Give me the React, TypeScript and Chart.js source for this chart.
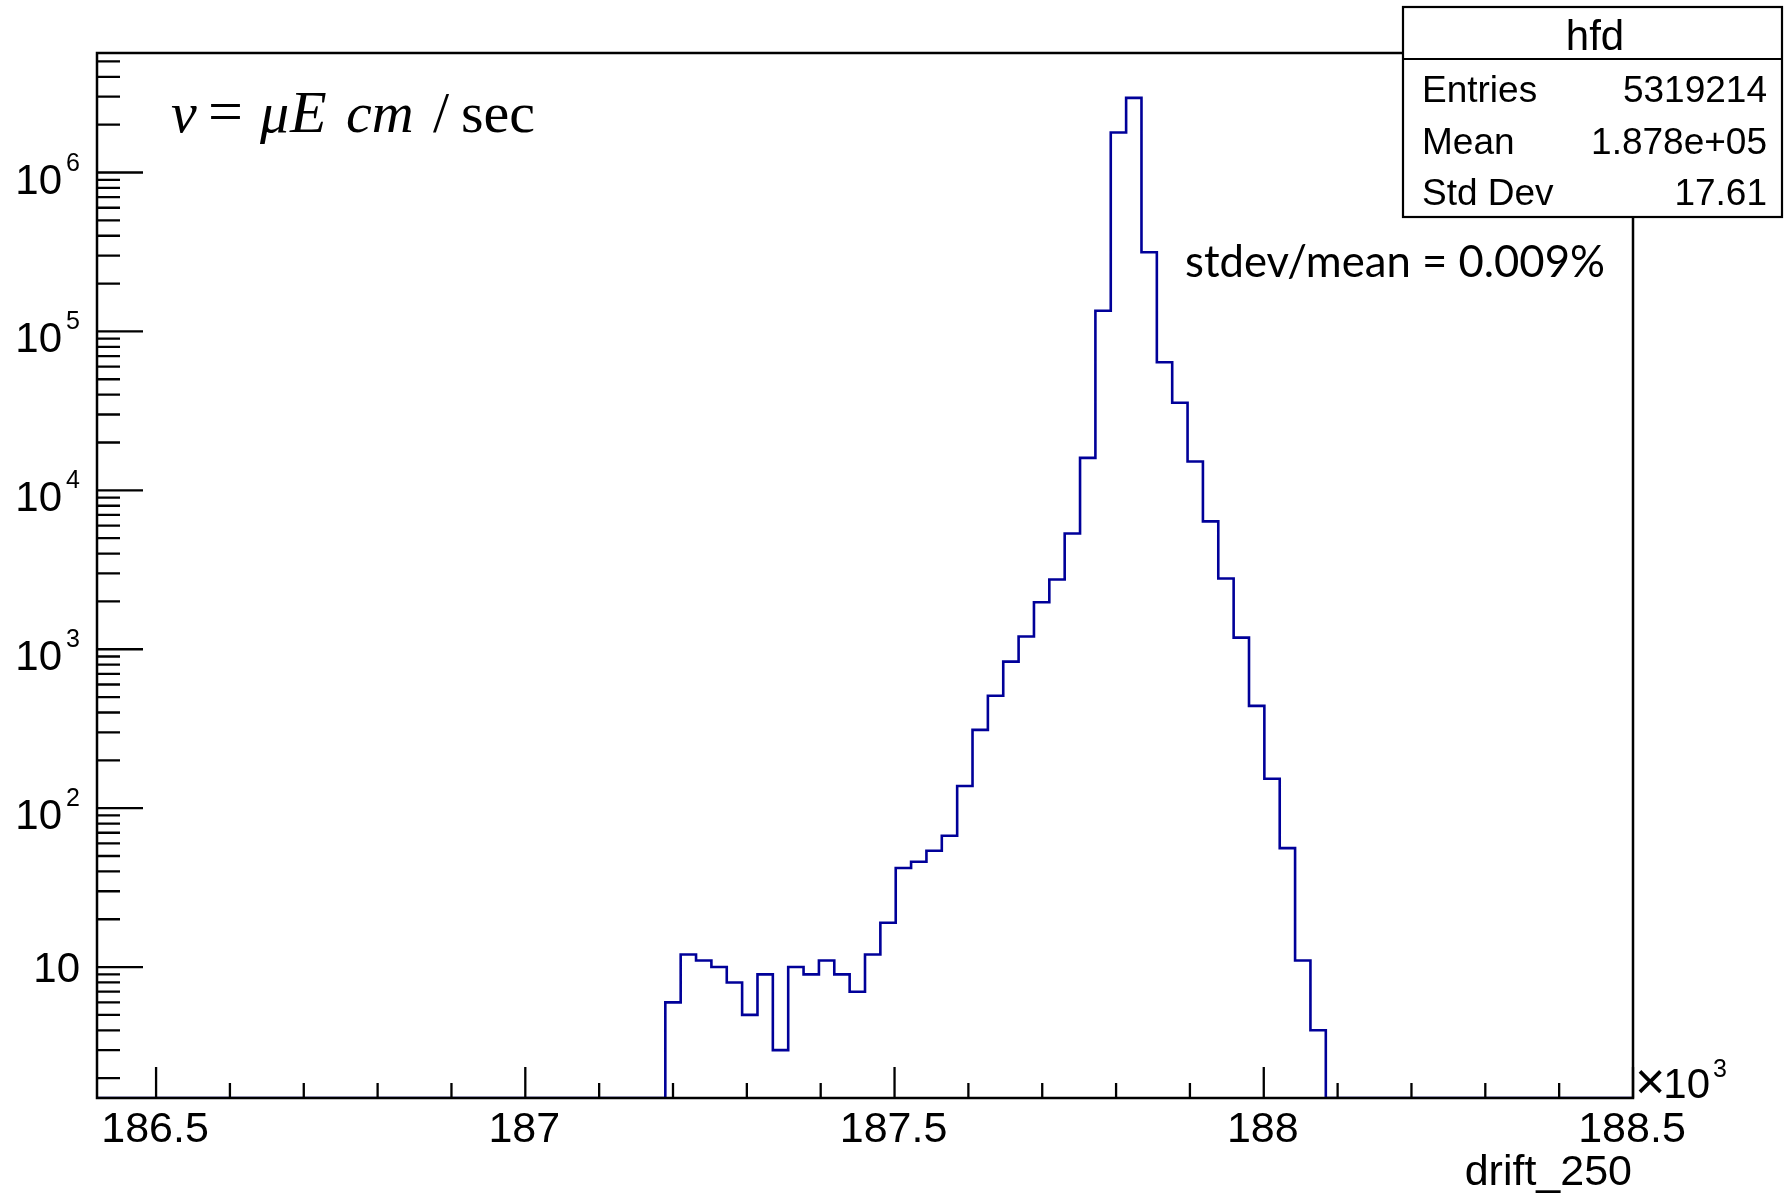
import React, { useEffect, useRef } from "react";
import { Chart, registerables } from "chart.js";

Chart.register(...registerables);

// ---- data (x in units of 10^3) ----
const X_MIN = 186.42;
const X_MAX = 188.5;
const N_BINS = 100;
const FIRST_BIN = 37;
const binCounts = [
  6, 12, 11, 10, 8, 5, 9, 3, 10, 9,
  11, 9, 7, 12, 19, 42, 46, 54, 67, 138,
  311, 510, 836, 1202, 1975, 2750, 5350, 16000, 135000, 1785000,
  2950000, 315000, 64000, 35600, 15200, 6380, 2790, 1183, 440, 153,
  56, 11, 4,
];
const Y_MIN = 1.5;
const Y_MAX = 5.65e6;

const X_TICK_VALUES = [186.5, 187, 187.5, 188, 188.5];
const X_TICK_LABELS = ["186.5", "187", "187.5", "188", "188.5"];
const X_MINOR_STEP = 0.1;
const Y_DECADES = [10, 100, 1000, 10000, 100000, 1000000];
const Y_LABEL_EXP = ["", "2", "3", "4", "5", "6"];

const X_TITLE = "drift_250";
const X_EXP_LABEL = "3";
const STAT_TITLE = "hfd";
const STAT_NAMES = ["Entries", "Mean", "Std Dev"];
const STAT_VALUES = ["5319214", "1.878e+05", "17.61"];
const NOTE = "stdev/mean = 0.009%";

const LINE_COLOR = "#000099";

function buildPoints() {
  const w = (X_MAX - X_MIN) / N_BINS;
  const pts: { x: number; y: number }[] = [];
  for (let i = 0; i < N_BINS; i++) {
    const idx = i - FIRST_BIN;
    const c = idx >= 0 && idx < binCounts.length ? binCounts[idx] : 0;
    pts.push({ x: X_MIN + i * w, y: c > 0 ? c : Y_MIN });
  }
  pts.push({ x: X_MAX, y: Y_MIN });
  return pts;
}

const SANS = '"Liberation Sans", Arial, Helvetica, sans-serif';
const SERIF = '"Liberation Serif", "Times New Roman", serif';

const rootPlugin = {
  id: "rootStyle",
  afterDraw(chart: any) {
    const { ctx, chartArea: a } = chart;
    const xs = chart.scales.x;
    const ys = chart.scales.y;
    ctx.save();
    ctx.strokeStyle = "#000";
    ctx.fillStyle = "#000";
    ctx.lineCap = "butt";

    // frame
    ctx.lineWidth = 2.5;
    ctx.strokeRect(a.left, a.top, a.right - a.left, a.bottom - a.top);

    // y ticks
    ctx.lineWidth = 2.3;
    ctx.beginPath();
    for (const d of Y_DECADES) {
      const py = ys.getPixelForValue(d);
      ctx.moveTo(a.left, py);
      ctx.lineTo(a.left + 46, py);
    }
    for (let e = 0; e <= 6; e++) {
      for (let k = 2; k <= 9; k++) {
        const v = k * Math.pow(10, e);
        if (v < Y_MIN || v > Y_MAX) continue;
        const py = ys.getPixelForValue(v);
        ctx.moveTo(a.left, py);
        ctx.lineTo(a.left + 23, py);
      }
    }
    // x ticks
    for (const t of X_TICK_VALUES) {
      const px = xs.getPixelForValue(t);
      ctx.moveTo(px, a.bottom);
      ctx.lineTo(px, a.bottom - 31);
    }
    const n = Math.round((X_TICK_VALUES[X_TICK_VALUES.length - 1] - X_TICK_VALUES[0]) / X_MINOR_STEP);
    for (let i = 0; i <= n; i++) {
      const v = X_TICK_VALUES[0] + i * X_MINOR_STEP;
      if (i % 5 === 0) continue;
      const px = xs.getPixelForValue(v);
      ctx.moveTo(px, a.bottom);
      ctx.lineTo(px, a.bottom - 15);
    }
    ctx.stroke();

    // y labels
    ctx.textBaseline = "alphabetic";
    Y_DECADES.forEach((d, i) => {
      const py = ys.getPixelForValue(d);
      ctx.textAlign = "right";
      if (!Y_LABEL_EXP[i]) {
        ctx.font = `42px ${SANS}`;
        ctx.fillText("10", a.left - 17, py + 15);
      } else {
        ctx.font = `42px ${SANS}`;
        ctx.fillText("10", a.left - 35, py + 21);
        ctx.font = `25px ${SANS}`;
        ctx.fillText(Y_LABEL_EXP[i], a.left - 17, py - 2);
      }
    });

    // x labels
    ctx.font = `43px ${SANS}`;
    ctx.textAlign = "center";
    X_TICK_VALUES.forEach((t, i) => {
      const px = xs.getPixelForValue(t);
      ctx.fillText(X_TICK_LABELS[i], px - 1, a.bottom + 44);
    });
    // x10^3
    ctx.textAlign = "left";
    ctx.font = `52px ${SANS}`;
    ctx.fillText("\u00d7", a.right + 2, a.bottom + 1);
    const wt = ctx.measureText("\u00d7").width;
    ctx.font = `42px ${SANS}`;
    ctx.fillText("10", a.right + 2 + wt - 2, a.bottom);
    const w10 = ctx.measureText("10").width;
    ctx.font = `25px ${SANS}`;
    ctx.fillText(X_EXP_LABEL, a.right + 2 + wt - 2 + w10 + 3, a.bottom - 21);
    // x title
    ctx.font = `43px ${SANS}`;
    ctx.textAlign = "right";
    ctx.fillText(X_TITLE, a.right - 1, a.bottom + 87);

    // formula v = μE cm / sec
    const fy = 132;
    const it = `italic 58px ${SERIF}`;
    const rg = `58px ${SERIF}`;
    const parts: [string, string, number][] = [
      ["v", it, 171],
      ["=", `62px ${SERIF}`, 208],
      ["\u03bc", it, 260],
      ["E", `italic 60px ${SERIF}`, 290],
      ["cm", it, 346],
      ["/", rg, 433],
      ["sec", rg, 461],
    ];
    ctx.textAlign = "left";
    for (const [s, f, x] of parts) {
      ctx.font = f;
      ctx.fillText(s, x, fy);
    }

    // note
    ctx.font = `43px Lato, "Open Sans", sans-serif`;
    const nw = ctx.measureText(NOTE).width;
    const fs = 43 * 420 / nw;
    ctx.font = `${fs.toFixed(2)}px Lato, "Open Sans", sans-serif`;
    ctx.fillText(NOTE, 1185, 277);

    // stats box
    const bx = 1403, by = 7, bw = 1782 - 1403, bh = 217 - 7;
    ctx.lineWidth = 2.2;
    ctx.fillStyle = "#fff";
    ctx.fillRect(bx, by, bw, bh);
    ctx.strokeRect(bx, by, bw, bh);
    ctx.beginPath();
    ctx.moveTo(bx, 59);
    ctx.lineTo(bx + bw, 59);
    ctx.stroke();
    ctx.fillStyle = "#000";
    ctx.font = `42px ${SANS}`;
    ctx.textAlign = "center";
    ctx.fillText(STAT_TITLE, 1595, 50);
    ctx.font = `37px ${SANS}`;
    const baselines = [102, 153.5, 204.5];
    STAT_NAMES.forEach((nm, i) => {
      ctx.textAlign = "left";
      ctx.fillText(nm, 1422, baselines[i]);
      ctx.textAlign = "right";
      ctx.fillText(STAT_VALUES[i], 1767, baselines[i]);
    });

    ctx.restore();
  },
};

export default function App() {
  const ref = useRef<HTMLCanvasElement>(null);
  useEffect(() => {
    if (!ref.current) return;
    const chart = new Chart(ref.current, {
      type: "line",
      data: {
        datasets: [
          {
            data: buildPoints(),
            stepped: "before",
            borderColor: LINE_COLOR,
            borderWidth: 2.6,
            pointRadius: 0,
            fill: false,
            tension: 0,
          } as any,
        ],
      },
      options: {
        animation: false,
        responsive: false,
        devicePixelRatio: 1,
        layout: { padding: { left: 97, top: 53, right: 154, bottom: 95 } },
        plugins: { legend: { display: false }, tooltip: { enabled: false } },
        scales: {
          x: { type: "linear", min: X_MIN, max: X_MAX, display: false, bounds: "data" },
          y: { type: "logarithmic", min: Y_MIN, max: Y_MAX, display: false, bounds: "data" },
        },
      },
      plugins: [rootPlugin],
    });
    return () => chart.destroy();
  }, []);
  return (
    <canvas
      ref={ref}
      width={1787}
      height={1193}
      style={{ position: "absolute", left: 0, top: 0, width: 1787, height: 1193, background: "#fff" }}
    />
  );
}
